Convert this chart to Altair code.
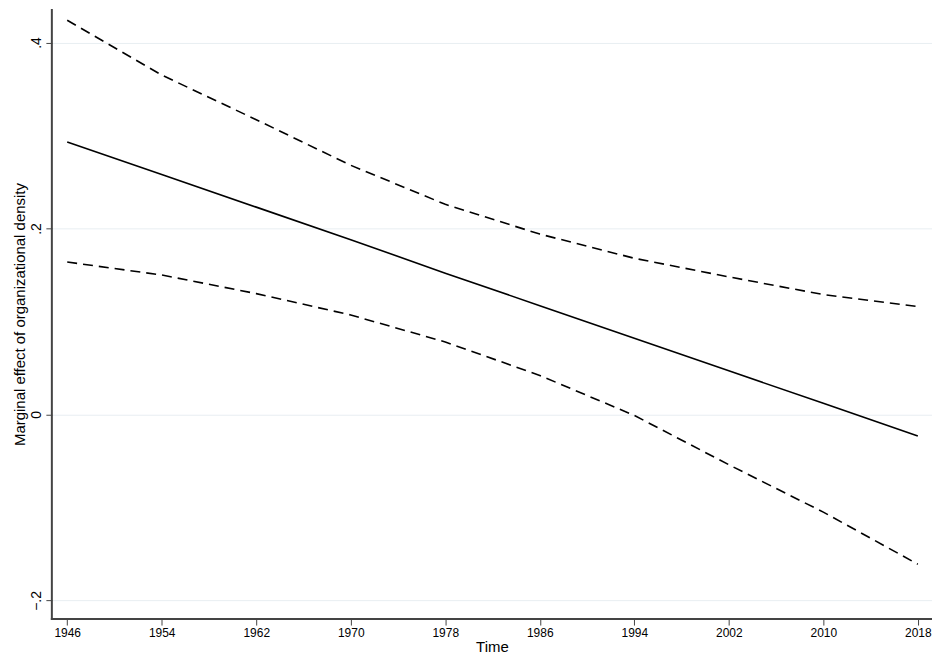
import altair as alt
import pandas as pd

years = [1946, 1954, 1962, 1970, 1978, 1986, 1994, 2002, 2010, 2018]
effect = [0.293, 0.258, 0.223, 0.188, 0.152, 0.117, 0.082, 0.047, 0.012, -0.023]
upper = [0.424, 0.365, 0.317, 0.268, 0.226, 0.194, 0.168, 0.148, 0.129, 0.116]
lower = [0.164, 0.150, 0.130, 0.107, 0.078, 0.042, -0.001, -0.054, -0.105, -0.161]

df = pd.DataFrame({"year": years, "effect": effect, "upper": upper, "lower": lower})

W, H = 883, 612

x_enc = alt.X("year:Q", title="Time",
              scale=alt.Scale(domain=[1944.7, 2019.2], nice=False, zero=False),
              axis=alt.Axis(values=years, format="d", grid=False, tickSize=6,
                            labelFontSize=12, titleFontSize=15, titlePadding=2,
                            tickColor="#444", labelColor="black"))

y_axis = alt.Axis(values=[-0.2, 0, 0.2, 0.4], labelAngle=-90, labelAlign="center",
                  labelBaseline="bottom", labelPadding=2,
                  labelExpr="datum.value == 0 ? '0' : replace(format(datum.value, '.1f'), '0.', '.')",
                  gridColor="#e8eef2", tickSize=6, labelFontSize=14, titleFontSize=15,
                  titlePadding=2, tickColor="#444", labelColor="black")
y_scale = alt.Scale(domain=[-0.22, 0.436], nice=False, zero=False)

base = alt.Chart(df)
main = base.mark_line(color="black", strokeWidth=1.6).encode(
    x=x_enc,
    y=alt.Y("effect:Q", title="Marginal effect of organizational density", scale=y_scale, axis=y_axis))
up = base.mark_line(color="black", strokeWidth=1.6, strokeDash=[10, 6]).encode(
    x="year:Q", y="upper:Q")
lo = base.mark_line(color="black", strokeWidth=1.6, strokeDash=[10, 6]).encode(
    x="year:Q", y="lower:Q")

# axis lines as thin rectangles
left_bar = alt.Chart(df.head(1)).mark_rect(color="#444").encode(
    x=alt.value(-1), x2=alt.value(1), y=alt.value(0), y2=alt.value(H + 1))
bottom_bar = alt.Chart(df.head(1)).mark_rect(color="#444").encode(
    x=alt.value(-1), x2=alt.value(W), y=alt.value(H - 1), y2=alt.value(H + 1))

chart = (main + up + lo + left_bar + bottom_bar).properties(
    width=W, height=H, autosize="none",
    padding={"left": 44, "top": 0, "right": 0, "bottom": 40}
).configure_view(stroke=None).configure_axis(
    labelFont="Arial", titleFont="Arial", titleFontWeight="normal", domain=False)

chart.save("out.html", embed_options={"renderer": "svg", "actions": False})
